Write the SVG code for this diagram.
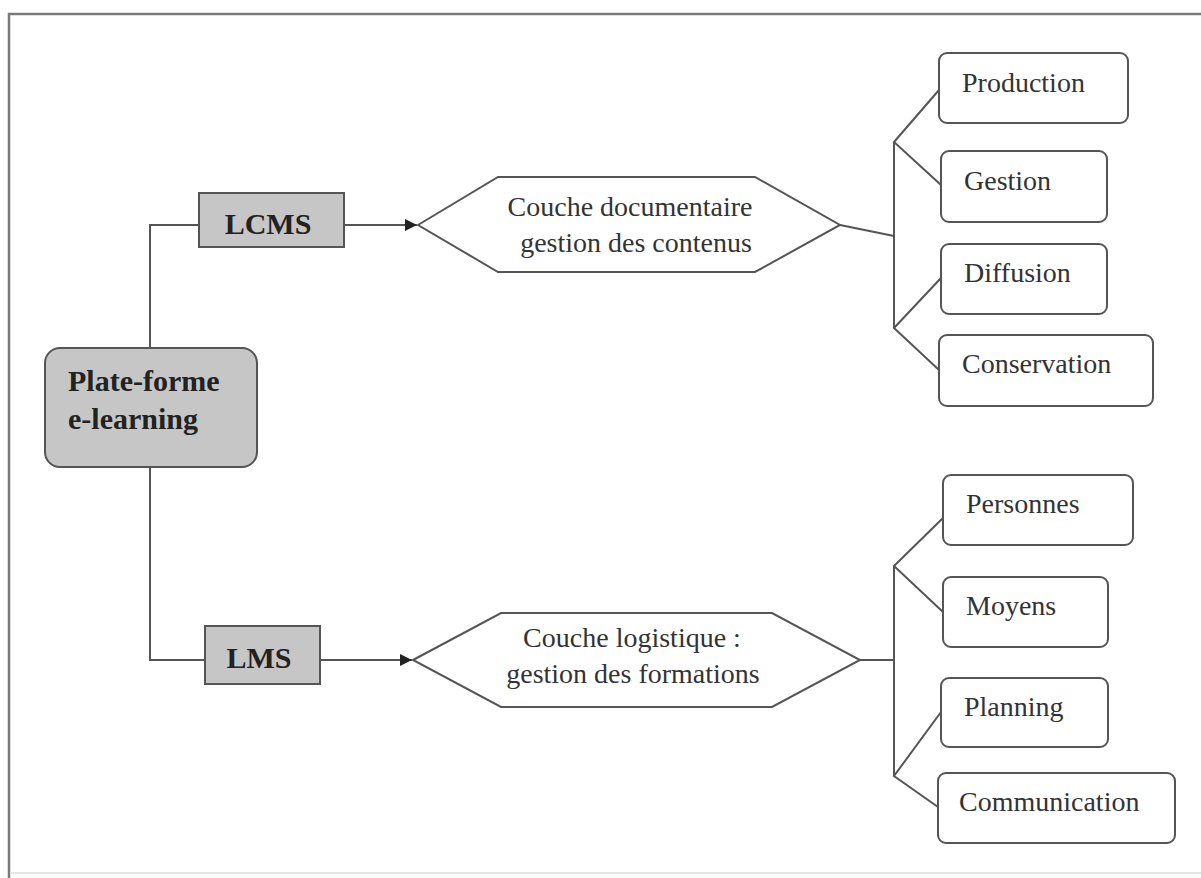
<svg xmlns="http://www.w3.org/2000/svg" width="1201" height="878" viewBox="0 0 1201 878">
<style>
.frame{fill:none;stroke:#7a7a7a;stroke-width:2.5}
.gray{fill:#c6c6c6;stroke:#555;stroke-width:2}
.white{fill:#fff;stroke:#555;stroke-width:2}
.conn{fill:none;stroke:#555;stroke-width:2}
.b{font-family:"Liberation Serif",serif;font-weight:bold;font-size:30px;fill:#222}
.t{font-family:"Liberation Serif",serif;font-size:28px;fill:#333}
.m{text-anchor:middle}
</style>
<defs>
<marker id="arr" viewBox="0 0 10 10" refX="10" refY="5" markerWidth="13" markerHeight="12" markerUnits="userSpaceOnUse" orient="auto">
<path d="M0,0 L10,5 L0,10 Z" fill="#222"/>
</marker>
</defs>
<rect width="1201" height="878" fill="#fff"/>
<path class="frame" d="M9,878 V14 H1201"/>
<path d="M10,873 H1201" stroke="#e6e6e6" stroke-width="2" fill="none"/>

<g id="connectors">
<path class="conn" d="M199,225 H150 V348"/>
<path class="conn" d="M150,467 V660 H205"/>
<path class="conn" d="M344,225 H417" marker-end="url(#arr)"/>
<path class="conn" d="M320,660 H412" marker-end="url(#arr)"/>
<path class="conn" d="M840,225 L894,236"/>
<path class="conn" d="M894,142 V328"/>
<path class="conn" d="M939,90 L894,142 L941,185"/>
<path class="conn" d="M941,278 L894,328 L939,370"/>
<path class="conn" d="M860,660 H894"/>
<path class="conn" d="M894,566 V776"/>
<path class="conn" d="M943,518 L894,566 L943,612"/>
<path class="conn" d="M941,712 L894,776 L938,807"/>
</g>

<g id="plateforme">
<rect class="gray" x="45" y="348" width="212" height="119" rx="15"/>
<text class="b" x="68" y="391">Plate-forme</text>
<text class="b" x="68" y="429">e-learning</text>
</g>

<g id="lcms">
<rect class="gray" x="199" y="193" width="145" height="54"/>
<text class="b m" x="268" y="234">LCMS</text>
</g>

<g id="lms">
<rect class="gray" x="205" y="626" width="115" height="58"/>
<text class="b m" x="259" y="668">LMS</text>
</g>

<g id="couche-doc">
<polygon class="white" points="418,225 498,177 755,177 840,225 755,272 498,272"/>
<text class="t m" x="630" y="216">Couche documentaire</text>
<text class="t m" x="636" y="252">gestion des contenus</text>
</g>

<g id="couche-log">
<polygon class="white" points="413,660 501,613 772,613 860,660 772,707 501,707"/>
<text class="t m" x="632" y="647">Couche logistique :</text>
<text class="t m" x="633" y="683">gestion des formations</text>
</g>

<g id="production">
<rect class="white" x="939" y="53" width="189" height="70" rx="8"/>
<text class="t" x="962" y="92">Production</text>
</g>
<g id="gestion">
<rect class="white" x="941" y="151" width="166" height="71" rx="8"/>
<text class="t" x="964" y="190">Gestion</text>
</g>
<g id="diffusion">
<rect class="white" x="941" y="244" width="166" height="70" rx="8"/>
<text class="t" x="964" y="282">Diffusion</text>
</g>
<g id="conservation">
<rect class="white" x="939" y="335" width="214" height="71" rx="8"/>
<text class="t" x="962" y="373">Conservation</text>
</g>

<g id="personnes">
<rect class="white" x="943" y="475" width="190" height="70" rx="8"/>
<text class="t" x="966" y="513">Personnes</text>
</g>
<g id="moyens">
<rect class="white" x="943" y="577" width="165" height="70" rx="8"/>
<text class="t" x="966" y="615">Moyens</text>
</g>
<g id="planning">
<rect class="white" x="941" y="678" width="167" height="69" rx="8"/>
<text class="t" x="964" y="716">Planning</text>
</g>
<g id="communication">
<rect class="white" x="938" y="773" width="237" height="70" rx="8"/>
<text class="t" x="959" y="811">Communication</text>
</g>
</svg>
